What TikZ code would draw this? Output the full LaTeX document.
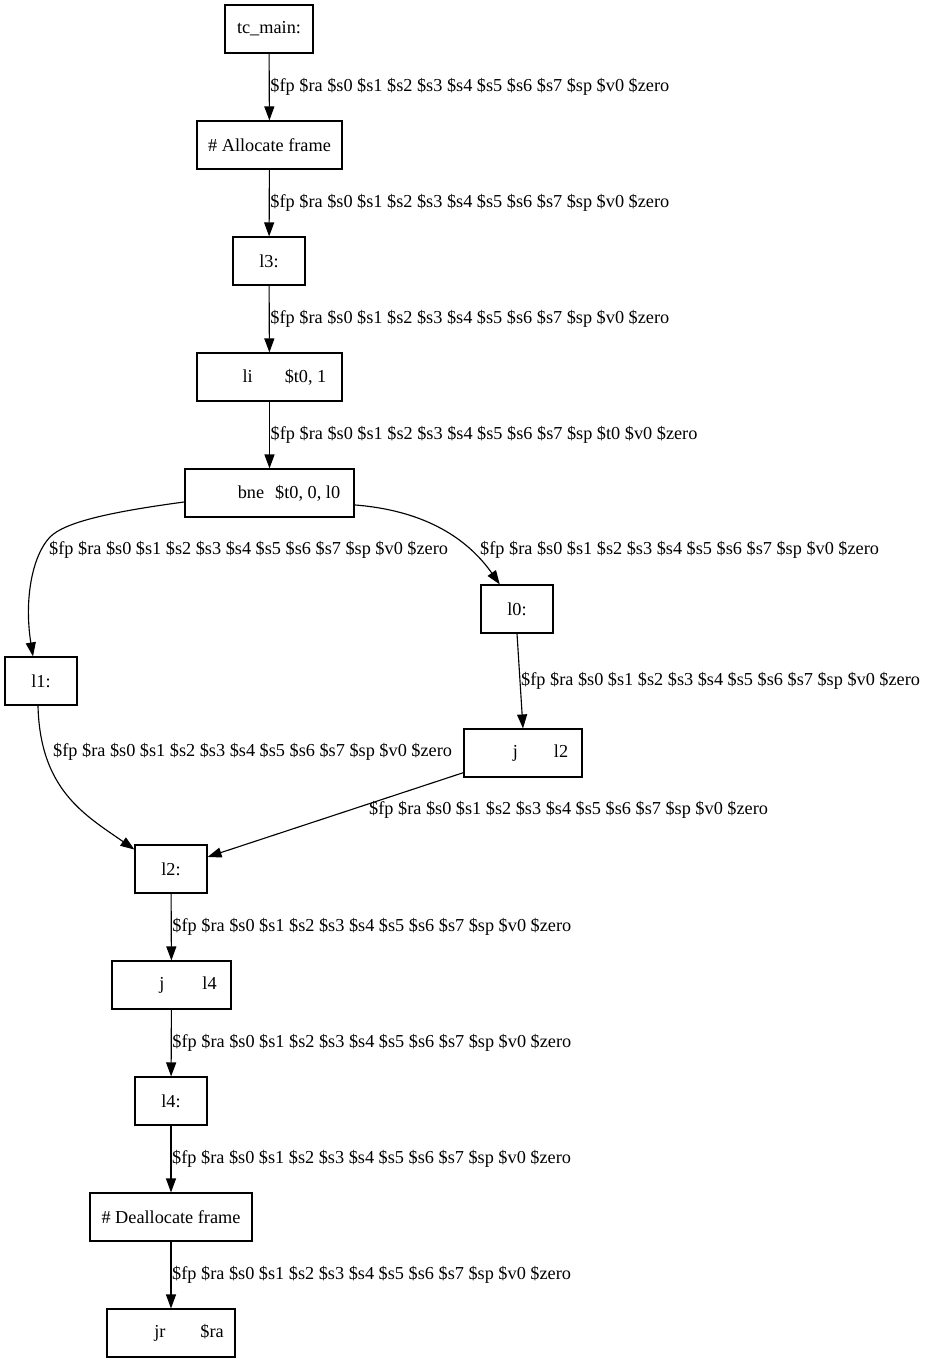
\documentclass[tikz,border=0pt]{standalone}
\usepackage{fontspec}
\setmainfont{Liberation Serif}
\usetikzlibrary{arrows.meta}

\newlength\gvpx
\setlength\gvpx{0.75pt}
\newcommand\liveregs{\$fp \$ra \$s0 \$s1 \$s2 \$s3 \$s4 \$s5 \$s6 \$s7 \$sp \$v0 \$zero}

\begin{document}
\begin{tikzpicture}[x=0.75pt, y=-0.75pt, line width=0.85pt,
    >={Triangle[length=10.5pt,width=7.5pt]},
    every node/.style={font=\fontsize{13.7}{16}\selectfont}]
        \tikzstyle{block} = [draw, rectangle, minimum height=36pt, inner sep=0pt]
        \tikzstyle{regs} = [anchor=west, inner sep=0.5pt]

        \useasboundingbox (0,0) rectangle (925,1363);

        \node [block, minimum width=66pt] (tcmain) at (269,29) {tc\_main:};
        \node [block, minimum width=108.75pt] (alloc) at (269.5,145) {\# Allocate frame};
        \node [block, minimum width=54pt] (l3) at (269,261) {l3:};
        \node [block, minimum width=108.75pt] (li) at (269.5,377) {\hspace*{30\gvpx}li\hspace{32\gvpx}\$t0, 1};
        \node [block, minimum width=126.75pt] (bne) at (269.5,493) {\hspace*{39\gvpx}bne\hspace{11\gvpx}\$t0, 0, l0};
        \node [block, minimum width=54pt] (l1) at (41,681) {l1:};
        \node [block, minimum width=54pt] (l0) at (517,609) {l0:};
        \node [block, minimum width=88.5pt] (jltwo) at (523,753) {\hspace*{35\gvpx}j\hspace{36\gvpx}l2};
        \node [block, minimum width=54pt] (l2) at (171,869) {l2:};
        \node [block, minimum width=89.25pt] (jlfour) at (171.5,985) {\hspace*{33\gvpx}j\hspace{38\gvpx}l4};
        \node [block, minimum width=54pt] (l4) at (171,1101) {l4:};
        \node [block, minimum width=121.5pt] (dealloc) at (171,1217) {\# Deallocate frame};
        \node [block, minimum width=96pt] (jr) at (171,1333) {\hspace*{36\gvpx}jr\hspace{35\gvpx}\$ra};

        \draw [->] (tcmain) -- node[regs] (r1) {\liveregs} (alloc);
        \draw [->] (alloc) -- node[regs] (r2) {\liveregs} (l3);
        \draw [->] (l3) -- node[regs] (r3) {\liveregs} (li);
        \draw [->] (li) -- node[regs] (r4) {\$fp \$ra \$s0 \$s1 \$s2 \$s3 \$s4 \$s5 \$s6 \$s7 \$sp \$t0 \$v0 \$zero} (bne);

        % branch
        \draw [->] (bne.186) .. controls (110,512) and (65,522) .. (50,537)
            .. controls (32,556) and (24,600) .. (l1.108);
        \node [regs] (r5) at (48,550) {\liveregs};
        \draw [->] (bne.352) .. controls (420,510) and (465,535) .. (l0.125);
        \node [regs] (r6) at (479,550) {\liveregs};
        \draw [->] (l0.south) -- node[regs] (r7) {\liveregs} (jltwo.north);

        % join at l2
        \draw [->] (l1.263) .. controls (40,790) and (85,815) .. (l2.152);
        \node [regs] (r8) at (52,752) {\liveregs};
        \draw [->] (jltwo) -- (l2);
        \node [regs] (r9) at (368,810) {\liveregs};

        \draw [->] (l2) -- node[regs] (r10) {\liveregs} (jlfour);
        \draw [->] (jlfour) -- node[regs] (r11) {\liveregs} (l4);
        \draw [->] (l4) -- node[regs] (r12) {\liveregs} (dealloc);
        \draw [->] (dealloc) -- node[regs] (r13) {\liveregs} (jr);
    \end{tikzpicture}
\end{document}
